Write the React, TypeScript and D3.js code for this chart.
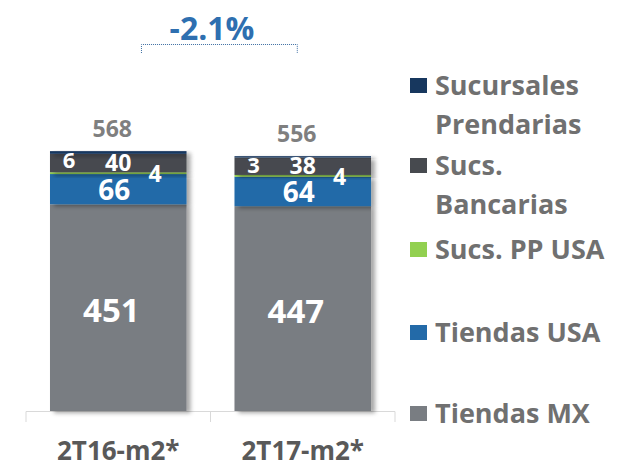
import React from "react";
import * as d3 from "d3";

const categories = ["2T16-m2*", "2T17-m2*"];
const seriesNames = ["Tiendas MX", "Tiendas USA", "Sucs. PP USA", "Sucs. Bancarias", "Sucursales Prendarias"];
const tiendasMX = [451, 447];
const tiendasUSA = [66, 64];
const sucsPPUSA = [4, 4];
const sucsBancarias = [40, 38];
const sucPrendarias = [6, 3];
const totals = [568, 556];
const changeLabel = "-2.1%";

const colors = ["#797d82", "#236aa8", "#92d050", "#474a4f", "#17375e"];
const legendLines = [["Sucursales", "Prendarias"], ["Sucs.", "Bancarias"], ["Sucs. PP USA"], ["Tiendas USA"], ["Tiendas MX"]];
const legendColors = ["#17375e", "#474a4f", "#92d050", "#236aa8", "#797d82"];
const legendY = [84, 164, 248, 331, 412];

const W = 631, H = 468;
const FONT = "'Open Sans', sans-serif";

export default function App() {
  const seriesValues = [tiendasMX, tiendasUSA, sucsPPUSA, sucsBancarias, sucPrendarias];
  const rows = categories.map((c, i) => {
    const r: any = { cat: c };
    seriesNames.forEach((s, k) => (r[s] = seriesValues[k][i]));
    return r;
  });
  const stacked = d3.stack().keys(seriesNames)(rows);

  const x = d3.scaleBand().domain(categories).range([26, 395]).paddingInner(0.26).paddingOuter(0.13);
  const y = d3.scaleLinear().domain([0, 600]).range([411, 136]);
  const bw = x.bandwidth();

  // label placement inside each segment (small segments are offset sideways like the original)
  const labelFor = (k: number, i: number, d: any) => {
    const cx = x(categories[i])!;
    const mid = (y(d[0]) + y(d[1])) / 2;
    if (k === 0) return { x: cx + bw * 0.45, y: mid + 2, size: 33 };
    if (k === 1) return { x: cx + bw * 0.47, y: mid, size: 28 };
    if (k === 2) return { x: cx + bw * 0.77, y: mid, size: 23 };
    if (k === 3) return { x: cx + bw * 0.5, y: mid - 1, size: 23 };
    return { x: cx + bw * 0.14, y: y(d[1]) + 8, size: 22 };
  };

  const x1 = x(categories[0])! + bw * 0.67;
  const x2 = x(categories[1])! + bw * 0.46;

  return (
    <svg width={W} height={H} style={{ position: "absolute", left: 0, top: 0, background: "#fff" }} fontFamily={FONT}>
      <defs>
        <filter id="sh" x="-10%" y="-10%" width="130%" height="130%">
          <feDropShadow dx="4" dy="2" stdDeviation="2" floodColor="#000" floodOpacity="0.35" />
        </filter>
      </defs>

      {/* axis */}
      <g stroke="#d9d9d9" strokeWidth={1} fill="none">
        <line x1={26} x2={395} y1={411.5} y2={411.5} />
        {[26, 210.5, 395].map((t) => (
          <line key={t} x1={t} x2={t} y1={411.5} y2={422} />
        ))}
      </g>

      {/* bars */}
      {stacked.map((s, k) => (
        <g key={s.key} fill={colors[k]} filter="url(#sh)">
          {s.map((d, i) => (
            <rect key={i} x={x(categories[i])} y={y(d[1])} width={bw} height={y(d[0]) - y(d[1])} />
          ))}
        </g>
      ))}

      {/* segment labels */}
      {stacked.map((s, k) =>
        s.map((d, i) => {
          const l = labelFor(k, i, d);
          return (
            <text key={`${k}-${i}`} x={l.x} y={l.y} fill="#fff" fontWeight="bold" fontSize={l.size}
              textAnchor="middle" dominantBaseline="central">
              {seriesValues[k][i]}
            </text>
          );
        })
      )}

      {/* totals */}
      {categories.map((c, i) => (
        <text key={c} x={x(c)! + bw / 2 - 6} y={y(totals[i]) - 23} fill="#7f7f7f" fontWeight="bold"
          fontSize={23} textAnchor="middle" dominantBaseline="central">
          {totals[i]}
        </text>
      ))}

      {/* category labels */}
      {categories.map((c) => (
        <text key={c} x={x(c)! + bw / 2} y={450} fill="#595959" fontWeight="bold" fontSize={26}
          textAnchor="middle" dominantBaseline="central">
          {c}
        </text>
      ))}

      {/* change bracket */}
      <path d={`M${x1},53 V44.5 H${x2} V53`} fill="none" stroke="#3f6fa3" strokeWidth={1} strokeDasharray="1,1" />
      <text x={212} y={27} fill="#2e6fb0" fontWeight="bold" fontSize={32} textAnchor="middle"
        dominantBaseline="central">
        {changeLabel}
      </text>

      {/* legend */}
      {legendLines.map((lines, i) => (
        <g key={i}>
          <rect x={410} y={legendY[i] - 6} width={17} height={15} fill={legendColors[i]} />
          {lines.map((t, j) => (
            <text key={j} x={435} y={legendY[i] + j * 39} fill="#707070" fontWeight="bold" fontSize={27}
              dominantBaseline="central">
              {t}
            </text>
          ))}
        </g>
      ))}
    </svg>
  );
}
